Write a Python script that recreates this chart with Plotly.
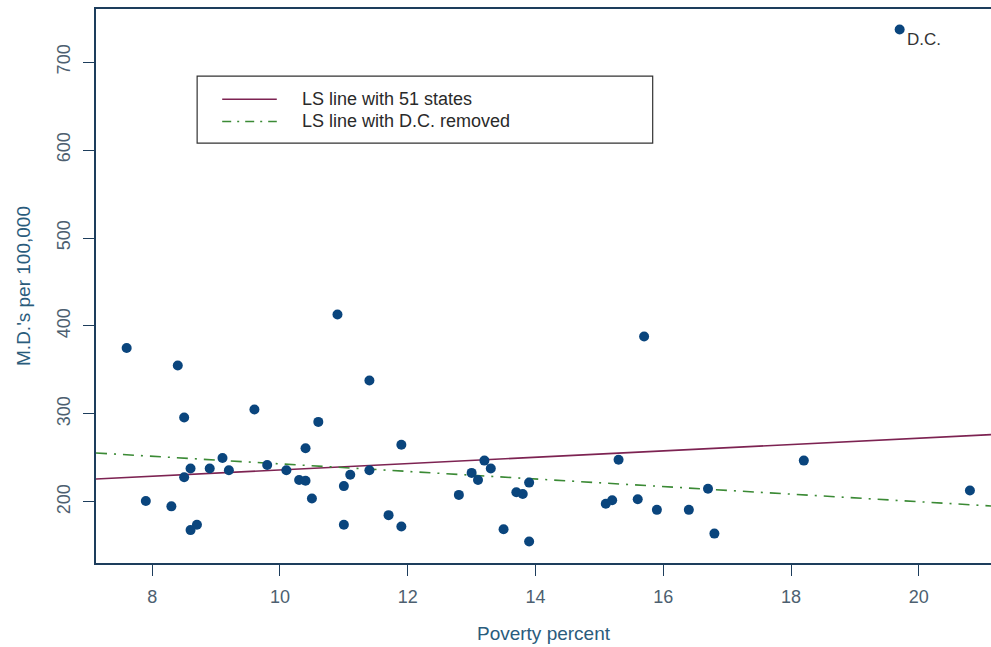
import plotly.graph_objects as go

# Poverty percent (x) and M.D.'s per 100,000 (y) for 50 states + D.C.
poverty = [7.6, 8.4, 8.5, 9.6, 10.6, 11.4, 11.9, 10.4, 9.1, 8.6,
           8.5, 8.9, 9.2, 9.8, 10.1, 10.3, 10.4, 10.5, 11.0, 11.1,
           11.4, 11.0, 11.7, 11.9, 7.9, 8.3, 8.6, 8.7, 10.9,
           15.7, 13.2, 13.3, 13.0, 13.1, 12.8, 13.7, 13.8, 13.9, 13.5,
           13.9, 15.3, 15.1, 15.2, 15.6, 15.9, 16.4, 16.7, 16.8, 18.2,
           20.8, 19.7]
doctors = [375, 355, 296, 305, 291, 338, 265, 261, 250, 238,
           228, 238, 236, 242, 236, 225, 224, 204, 218, 231,
           236, 174, 185, 172, 201, 195, 168, 174, 413,
           388, 247, 238, 233, 225, 208, 211, 209, 222, 169,
           155, 248, 198, 202, 203, 191, 191, 215, 164, 247,
           213, 737]

# Least-squares lines (end points over the x range)
ls_x = [7.12, 21.13]
ls_all_y = [226, 276.5]
ls_nodc_y = [255.7, 195.4]

x_ticks = [8, 10, 12, 14, 16, 18, 20]
y_ticks = [200, 300, 400, 500, 600, 700]

AXIS = "#1d3d5c"
TICKFONT = "#4d5f70"
TITLE = "#2a5c7c"
PURPLE = "#7d2352"
GREEN = "#3b8a35"
MARK = "#0a457d"
FONT = "Liberation Sans, Arial, sans-serif"

fig = go.Figure()
fig.add_trace(go.Scatter(x=ls_x, y=ls_all_y, mode="lines", name="LS line with 51 states",
                         line=dict(color=PURPLE, width=1.6), showlegend=False))
fig.add_trace(go.Scatter(x=ls_x, y=ls_nodc_y, mode="lines", name="LS line with D.C. removed",
                         line=dict(color=GREEN, width=1.6, dash="11px,7px,2px,7px"),
                         showlegend=False))
fig.add_trace(go.Scatter(x=poverty, y=doctors, mode="markers", name="States",
                         marker=dict(color=MARK, size=10, line=dict(width=0)),
                         showlegend=False))

fig.add_annotation(x=poverty[-1], y=doctors[-1], text="D.C.", showarrow=False,
                   xanchor="left", yanchor="middle", xshift=5, yshift=-10,
                   font=dict(family=FONT, size=17, color="#333333"))

# legend box drawn manually (paper coordinates)
fig.add_shape(type="rect", xref="paper", yref="paper",
              x0=0.113, x1=0.622, y0=0.758, y1=0.879,
              line=dict(color="#333333", width=1.2), fillcolor="white", layer="above")
fig.add_shape(type="line", xref="paper", yref="paper", x0=0.141, x1=0.202, y0=0.837, y1=0.837,
              line=dict(color=PURPLE, width=1.6), layer="above")
fig.add_shape(type="line", xref="paper", yref="paper", x0=0.141, x1=0.202, y0=0.797, y1=0.797,
              line=dict(color=GREEN, width=1.6, dash="9px,6px,2px,6px"), layer="above")
fig.add_annotation(xref="paper", yref="paper", x=0.228, y=0.837, text="LS line with 51 states",
                   showarrow=False, xanchor="left", yanchor="middle",
                   font=dict(family=FONT, size=18, color="#2a2a2a"))
fig.add_annotation(xref="paper", yref="paper", x=0.228, y=0.797, text="LS line with D.C. removed",
                   showarrow=False, xanchor="left", yanchor="middle",
                   font=dict(family=FONT, size=18, color="#2a2a2a"))

fig.update_layout(
    width=991, height=647,
    margin=dict(l=96, r=0, t=9, b=84),
    paper_bgcolor="white", plot_bgcolor="white",
    font=dict(family=FONT),
    xaxis=dict(range=[7.12, 21.13], tickvals=x_ticks, ticks="outside", ticklen=11,
               tickcolor=AXIS, tickwidth=1.3, showline=True, linecolor=AXIS, linewidth=1.6,
               mirror=True, showgrid=False, zeroline=False, ticklabelstandoff=6,
               tickfont=dict(size=18, color=TICKFONT),
               title=dict(text="Poverty percent", font=dict(size=19, color=TITLE), standoff=20)),
    yaxis=dict(range=[130.6, 760.3], tickvals=y_ticks, ticks="outside", ticklen=11,
               tickcolor=AXIS, tickwidth=1.3, showline=True, linecolor=AXIS, linewidth=1.6,
               showgrid=False, zeroline=False, tickangle=-90, ticklabelstandoff=6,
               tickfont=dict(size=18, color=TICKFONT),
               title=dict(text="M.D.'s per 100,000", font=dict(size=19, color=TITLE), standoff=18)),
)

fig.write_html("out.html", config={"displayModeBar": False},
               post_script="document.body.style.margin='0';document.body.style.overflow='hidden';")
